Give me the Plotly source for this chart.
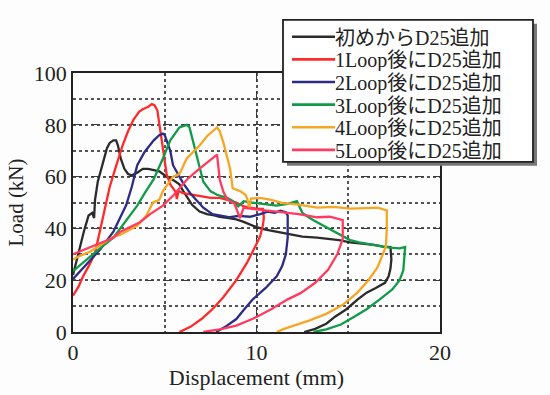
import plotly.graph_objects as go

# ---------------- data ----------------
names = ["初めからD25追加", "1Loop後にD25追加", "2Loop後にD25追加",
         "3Loop後にD25追加", "4Loop後にD25追加", "5Loop後にD25追加"]
colors = ["#2b2b2b", "#ff2a2a", "#2c2c86", "#119b48", "#f6a623", "#ff3b5f"]

x0 = [0, 0.2, 0.4, 0.6, 0.85, 1.05, 1.15, 1.2, 1.35, 1.6, 1.85, 2.0, 2.2, 2.35, 2.45, 2.6, 2.8, 3.0,
      3.2, 3.5, 3.8, 4.1, 4.4, 4.7, 4.9, 5.2, 5.5, 5.8, 6.0, 6.2, 6.5, 6.9, 7.3, 7.7, 8.0, 8.5, 8.9,
      9.3, 9.65, 10.0, 10.5, 11.0, 11.45, 12.0, 12.5, 13.3, 14.0, 14.5, 15.1, 15.8, 16.4, 16.9, 17.3,
      17.35, 17.3, 17.2, 17.0, 16.5, 16.0, 15.5, 14.9, 14.3, 13.8, 13.2, 12.6]
y0 = [22, 28, 33, 39, 45, 46, 44, 51, 58, 65, 71, 73, 74, 74, 72, 67, 63, 61,
      60.5, 61.5, 63, 63, 62.5, 62, 61, 59.5, 58.5, 57, 54.5, 52.5, 49, 46.5, 45.5, 45, 44.5, 44, 43.5,
      42.5, 41.5, 40.5, 39.5, 38.8, 38.3, 37.5, 36.8, 36.4, 35.8, 35.5, 34.6, 34.2, 33.6, 33, 32.8,
      28, 24.5, 21.5, 19, 17, 15.2, 12.5, 8.8, 6, 3.2, 1.2, 0]

x1 = [0, 0.3, 0.55, 0.9, 1.2, 1.5, 1.75, 2.0, 2.3, 2.7, 3.0, 3.3, 3.6, 3.8, 4.1, 4.3, 4.45, 4.6,
      4.74, 4.9, 5.1, 5.3, 5.45, 5.6, 5.66, 5.75, 6.0, 6.5, 7.1, 7.5, 8.0, 8.5, 8.9, 9.3, 9.7, 10.0,
      10.35, 10.4, 10.35, 10.2, 10.0, 9.5, 8.9, 8.2, 7.6, 7.0, 6.4, 5.8]
y1 = [14, 17.5, 21.5, 26, 30.5, 40, 49, 56, 63, 72, 77.5, 82, 85, 86, 87, 88, 87.5, 85.5,
      78.6, 70, 61, 57, 55.5, 54, 51.3, 54.5, 53.6, 53, 52.5, 51.8, 51.8, 50.8, 50, 48.5, 48, 47.6,
      47.5, 44, 41.3, 37, 34, 27, 20, 13.5, 8.8, 5, 2, 0]

x2 = [0, 0.4, 0.93, 1.5, 2.2, 2.56, 2.9, 3.2, 3.5, 3.9, 4.4, 4.7, 4.9, 5.0, 5.2, 5.3, 5.45, 5.7,
      6.0, 6.4, 6.76, 7.1, 7.6, 8.0, 8.56, 9.0, 9.65, 10.2, 10.6, 11.0, 11.3, 11.6, 11.7, 11.7,
      11.6, 11.4, 11.1, 10.5, 9.8, 9.3, 8.9, 8.3, 7.8]
y2 = [20.5, 23.5, 27.6, 32, 38.7, 44, 49, 56, 64.4, 69.5, 74, 76, 76.6, 76, 72, 70, 64.4, 61,
      57.5, 53.5, 50.5, 48, 45.5, 45, 44.3, 44.8, 44.5, 45.5, 46.5, 46, 46.8, 46.2, 45, 36.5,
      30, 25.5, 21.5, 17, 12.6, 8.5, 5, 2, 0]

x3 = [0, 0.4, 0.9, 1.5, 2.2, 2.8, 3.5, 3.9, 4.4, 4.9, 5.3, 5.8, 6.0, 6.2, 6.35, 6.5, 6.76, 7.1,
      7.5, 7.85, 8.4, 8.7, 9.0, 9.3, 9.65, 10.2, 11.1, 11.7, 12.2, 12.5, 12.9, 13.3, 13.9, 14.55,
      15.1, 15.6, 16.3, 16.9, 17.3, 17.8, 18.1, 18.05, 18.0, 17.8, 17.4, 16.7, 16.0, 15.3, 14.6,
      13.8, 13.1]
y3 = [23.5, 26, 29, 32.5, 36.4, 42, 48.8, 53.5, 59, 67, 74, 79, 79.5, 80, 79, 75, 68, 58,
      54.3, 53, 51.8, 50.6, 48.5, 50.5, 50, 49.5, 48.8, 49.5, 50.5, 46, 44, 42.4, 40, 37.5,
      35.5, 34.6, 33.6, 33, 32.6, 32.3, 32.8, 28, 23.8, 20, 16.4, 12.5, 8.8, 5.8, 2.9,
      1, 0]

x4 = [0, 0.4, 0.93, 1.5, 2.2, 2.56, 3.0, 3.5, 4.0, 4.36, 4.7, 4.9, 5.45, 5.8, 6.2, 6.5, 6.9, 7.3,
      7.6, 7.85, 8.0, 8.2, 8.56, 8.7, 9.1, 9.4, 9.5, 9.6, 9.7, 10.2, 10.8, 11.45, 12.2, 13.3, 14.2,
      15.1, 16.0, 16.6, 17.1, 17.1, 17.05, 16.6, 16.1, 15.5, 14.7, 13.8, 12.9, 12.0, 11.5, 11.1]
y4 = [28, 29.5, 31, 33.5, 36.8, 37.5, 39, 41, 45, 50, 51, 54.4, 60, 61, 67, 69, 72, 75.6,
      77.5, 79, 77.5, 73, 63, 55.5, 54.4, 53, 51.3, 47.6, 51.5, 51.8, 51, 49.8, 49.3, 48, 48.3,
      47.6, 47.8, 48, 47, 40, 33, 25, 20, 15.2, 10.5, 7, 4.5, 2.5, 1.2, 0]

x5 = [0, 0.5, 0.9, 1.5, 2.2, 2.56, 3.1, 3.65, 4.2, 4.9, 5.5, 6.2, 6.8, 7.3, 7.85, 8.0, 8.2, 8.4,
      8.8, 9.1, 9.3, 9.65, 10.5, 11.45, 12.3, 13.3, 14.0, 14.7, 14.7, 14.4, 13.9, 13.2, 12.4,
      11.7, 10.8, 9.8, 8.9, 8.0, 7.1]
y5 = [30, 31.5, 32.6, 34.5, 36.4, 38.6, 40.5, 42.4, 45.5, 48.8, 53, 58.8, 62.5, 65.5, 68.5, 58.8, 54, 51.3,
      49.5, 44, 48, 47.6, 47, 46.2, 45.5, 44.3, 44.5, 43.2, 36, 30, 24, 19, 15,
      12.6, 8.8, 5.1, 2.5, 1, 0]

xs = [x0, x1, x2, x3, x4, x5]
ys = [y0, y1, y2, y3, y4, y5]

x_ticks = [0, 10, 20]
y_ticks = [0, 20, 40, 60, 80, 100]

# ---------------- figure ----------------
W, H = 550, 395
ML, MR, MT, MB = 73, 110, 73, 54
PW, PH = W - ML - MR, H - MT - MB
SERIF = "Liberation Serif, Times New Roman, Noto Sans CJK JP, serif"


def px(xp):
    return (xp - ML) / PW


def py(yp):
    return (H - MB - yp) / PH


fig = go.Figure()
for n, c, x, y in zip(names, colors, xs, ys):
    fig.add_trace(go.Scatter(x=x, y=y, mode="lines", name=n,
                             line=dict(color=c, width=2.3), showlegend=False))

axis_common = dict(showline=True, linecolor="#222", linewidth=1.8, mirror=True,
                   ticks="", zeroline=False, showgrid=True, gridcolor="#3a3a3a",
                   gridwidth=1.3, griddash="dash",
                   tickfont=dict(family=SERIF, size=22, color="#222"))

fig.update_xaxes(range=[0, 20], tickvals=x_ticks, **axis_common,
                 minor=dict(dtick=5, showgrid=True, gridcolor="#555", gridwidth=1.5,
                            griddash="dot"),
                 title=dict(text="Displacement (mm)", font=dict(family=SERIF, size=22, color="#222"),
                            standoff=2))
fig.update_yaxes(range=[0, 100], tickvals=y_ticks, **axis_common,
                 minor=dict(dtick=10, showgrid=True, gridcolor="#555", gridwidth=1.5,
                            griddash="dot"),
                 title=dict(text="Load (kN)", font=dict(family=SERIF, size=21, color="#222"),
                            standoff=4))

# ----- legend drawn as box + samples + text -----
LX0, LX1, LY0, LY1 = 283, 533, 18, 165
shapes = [
    dict(type="rect", xref="paper", yref="paper", x0=px(LX0 + 4), x1=px(LX1 + 4),
         y0=py(LY1 + 4), y1=py(LY0 + 4), fillcolor="#777", line=dict(width=0), layer="above"),
    dict(type="rect", xref="paper", yref="paper", x0=px(LX0), x1=px(LX1),
         y0=py(LY1), y1=py(LY0), fillcolor="white", line=dict(color="#222", width=1.8),
         layer="above"),
]
annotations = []
row0, dy = 35.5, 23.4
for i, (n, c) in enumerate(zip(names, colors)):
    yc = row0 + dy * i
    shapes.append(dict(type="line", xref="paper", yref="paper", x0=px(292), x1=px(335),
                       y0=py(yc), y1=py(yc), line=dict(color=c, width=2.6), layer="above"))
    annotations.append(dict(xref="paper", yref="paper", x=px(334), y=py(yc + 1),
                            xanchor="left", yanchor="middle", showarrow=False, text=n,
                            height=22, valign="middle", borderpad=0,
                            font=dict(family=SERIF, size=20, color="#222")))

fig.update_layout(width=W, height=H, margin=dict(l=ML, r=MR, t=MT, b=MB),
                  paper_bgcolor="#fdfdfd", plot_bgcolor="#fdfdfd",
                  shapes=shapes, annotations=annotations, showlegend=False)

fig.write_html("out.html")
